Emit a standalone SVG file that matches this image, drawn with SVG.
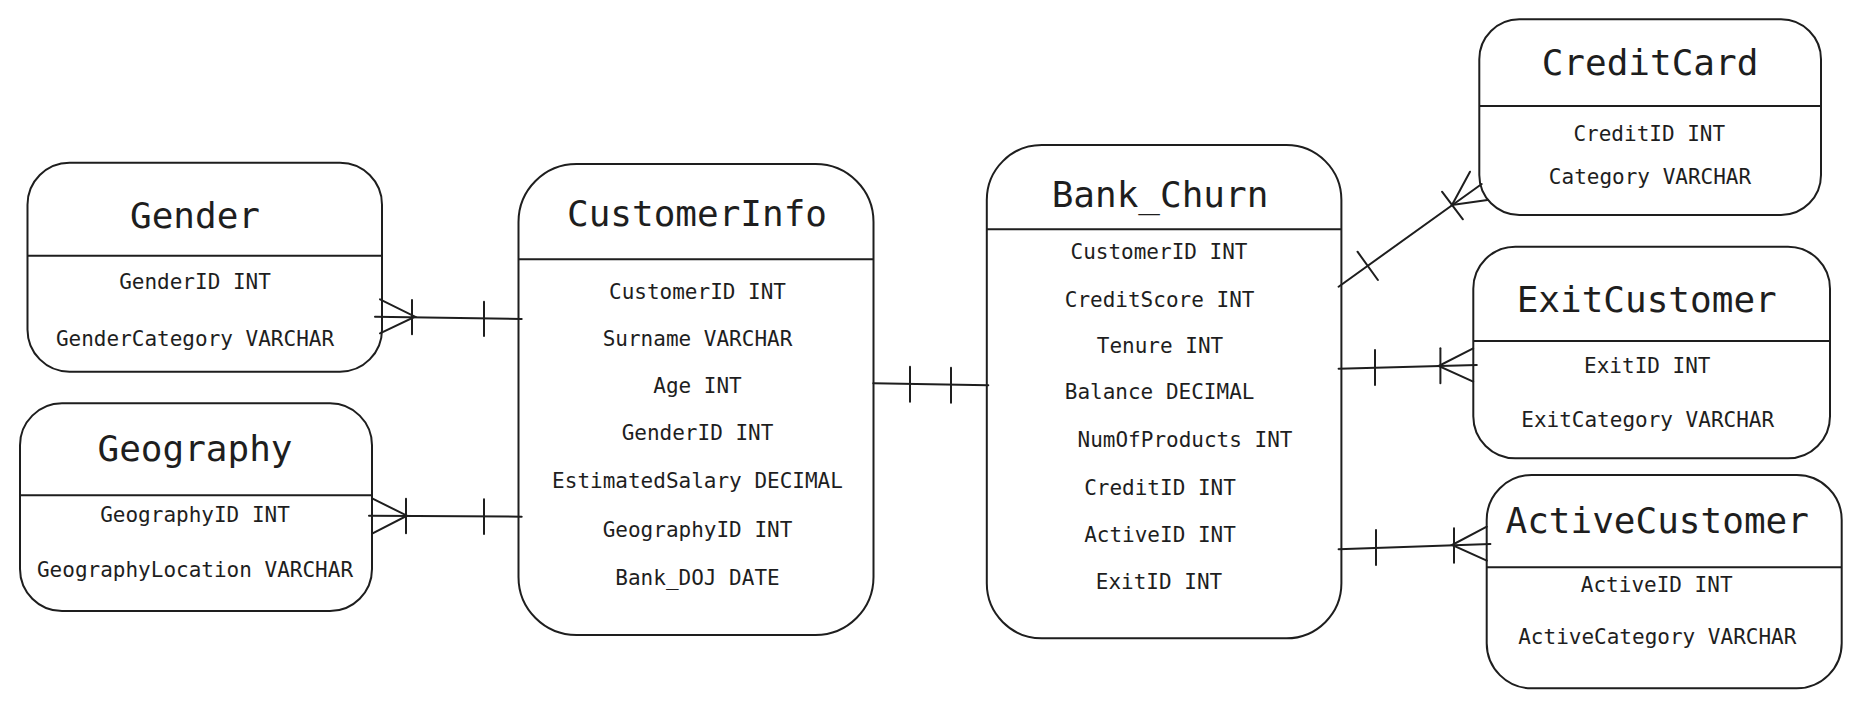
<svg xmlns="http://www.w3.org/2000/svg" width="1862" height="707" viewBox="0 0 1862 707">
<style>
.box{fill:#ffffff;stroke:#1e1e1e;stroke-width:2}
.div{stroke:#1e1e1e;stroke-width:2}
.ln{stroke:#1e1e1e;stroke-width:2;fill:none;stroke-linecap:round}
.t{font-family:"DejaVu Sans Mono","Liberation Mono",monospace;font-size:36px;fill:#1e1e1e;text-anchor:middle}
.f{font-family:"DejaVu Sans Mono","Liberation Mono",monospace;font-size:21px;fill:#1e1e1e;text-anchor:middle}
</style>
<rect width="1862" height="707" fill="#ffffff"/>
<g id="Gender">
<rect class="box" x="27.5" y="162.7" width="354.5" height="209" rx="42"/>
<line class="div" x1="27.5" y1="255.7" x2="382" y2="255.7"/>
<text class="t" x="195" y="228">Gender</text>
<text class="f" x="195" y="289">GenderID INT</text>
<text class="f" x="195" y="346">GenderCategory VARCHAR</text>
</g>
<g id="Geography">
<rect class="box" x="20" y="403.3" width="352" height="207.7" rx="42"/>
<line class="div" x1="20" y1="495.3" x2="372" y2="495.3"/>
<text class="t" x="195" y="461">Geography</text>
<text class="f" x="195" y="522">GeographyID INT</text>
<text class="f" x="195" y="577">GeographyLocation VARCHAR</text>
</g>
<g id="CustomerInfo">
<rect class="box" x="518.5" y="164" width="355" height="471" rx="58"/>
<line class="div" x1="518.5" y1="259.3" x2="873.5" y2="259.3"/>
<text class="t" x="697" y="226">CustomerInfo</text>
<text class="f" x="697.5" y="299">CustomerID INT</text>
<text class="f" x="697.5" y="346">Surname VARCHAR</text>
<text class="f" x="697.5" y="393">Age INT</text>
<text class="f" x="697.5" y="440">GenderID INT</text>
<text class="f" x="697.5" y="488">EstimatedSalary DECIMAL</text>
<text class="f" x="697.5" y="537">GeographyID INT</text>
<text class="f" x="697.5" y="585">Bank_DOJ DATE</text>
</g>
<g id="Bank_Churn">
<rect class="box" x="986.8" y="145" width="354.6" height="493.3" rx="55"/>
<line class="div" x1="986.8" y1="229.3" x2="1341.4" y2="229.3"/>
<text class="t" x="1160" y="207">Bank_Churn</text>
<text class="f" x="1159" y="259">CustomerID INT</text>
<text class="f" x="1159.6" y="307">CreditScore INT</text>
<text class="f" x="1160" y="353">Tenure INT</text>
<text class="f" x="1159.6" y="399">Balance DECIMAL</text>
<text class="f" x="1185" y="447">NumOfProducts INT</text>
<text class="f" x="1160" y="495">CreditID INT</text>
<text class="f" x="1160" y="542">ActiveID INT</text>
<text class="f" x="1159" y="589">ExitID INT</text>
</g>
<g id="CreditCard">
<rect class="box" x="1479.3" y="19.3" width="341.7" height="195.7" rx="40"/>
<line class="div" x1="1479.3" y1="106" x2="1821" y2="106"/>
<text class="t" x="1650" y="75">CreditCard</text>
<text class="f" x="1649.3" y="141">CreditID INT</text>
<text class="f" x="1650" y="184">Category VARCHAR</text>
</g>
<g id="ExitCustomer">
<rect class="box" x="1473.3" y="246.7" width="356.7" height="211.6" rx="42"/>
<line class="div" x1="1473.3" y1="341" x2="1830" y2="341"/>
<text class="t" x="1646.7" y="311.7">ExitCustomer</text>
<text class="f" x="1647.3" y="372.7">ExitID INT</text>
<text class="f" x="1647.7" y="426.7">ExitCategory VARCHAR</text>
</g>
<g id="ActiveCustomer">
<rect class="box" x="1486.7" y="475" width="355" height="213.3" rx="45"/>
<line class="div" x1="1486.7" y1="567.3" x2="1841.7" y2="567.3"/>
<text class="t" x="1657.2" y="533.3">ActiveCustomer</text>
<text class="f" x="1656.7" y="591.7">ActiveID INT</text>
<text class="f" x="1657.3" y="644">ActiveCategory VARCHAR</text>
</g>
<g id="connectors">
<line class="ln" x1="375" y1="316.7" x2="521.7" y2="319"/>
<polyline class="ln" points="380,299.3 415,316.7 380,333.3"/>
<line class="ln" x1="412" y1="300" x2="412" y2="334.3"/>
<line class="ln" x1="484" y1="301.7" x2="484" y2="336"/>
<line class="ln" x1="369" y1="515.7" x2="521.7" y2="516.7"/>
<polyline class="ln" points="372.6,498.7 407,515.7 372.6,533.3"/>
<line class="ln" x1="406" y1="498.7" x2="406" y2="533.3"/>
<line class="ln" x1="484" y1="499.3" x2="484" y2="534"/>
<line class="ln" x1="873.3" y1="383.3" x2="988.3" y2="385.3"/>
<line class="ln" x1="910" y1="366.7" x2="910" y2="401.7"/>
<line class="ln" x1="951" y1="367.7" x2="951" y2="402.7"/>
<line class="ln" x1="1338.6" y1="286.7" x2="1481.7" y2="184"/>
<polyline class="ln" points="1470,171.7 1452,205 1487.5,200"/>
<line class="ln" x1="1442" y1="191.7" x2="1462.9" y2="219.3"/>
<line class="ln" x1="1357.5" y1="251.7" x2="1377.9" y2="280"/>
<line class="ln" x1="1338.6" y1="368.7" x2="1476.8" y2="365"/>
<polyline class="ln" points="1473.2,348.3 1438.6,366 1473.2,381.7"/>
<line class="ln" x1="1375" y1="350" x2="1375" y2="385"/>
<line class="ln" x1="1440.4" y1="348.3" x2="1440.4" y2="383.3"/>
<line class="ln" x1="1338.6" y1="549.3" x2="1490.4" y2="544"/>
<polyline class="ln" points="1486.8,526.7 1452,545 1486.8,560.7"/>
<line class="ln" x1="1376" y1="530" x2="1376" y2="565"/>
<line class="ln" x1="1454" y1="528.3" x2="1454" y2="562.7"/>
</g>
</svg>
